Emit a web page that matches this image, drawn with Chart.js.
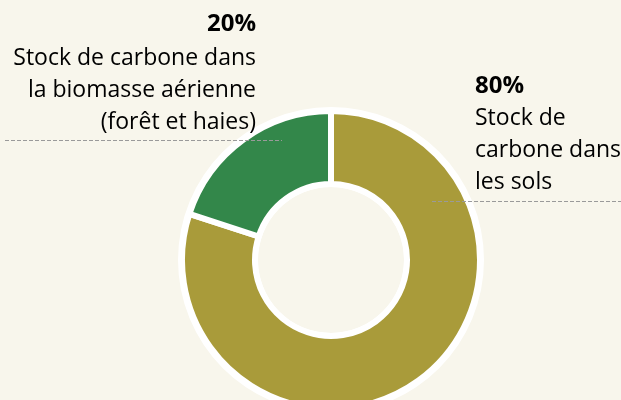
<!DOCTYPE html>
<html lang="fr">
<head>
<meta charset="utf-8">
<title>Stock de carbone</title>
<script src="https://cdn.jsdelivr.net/npm/chart.js@4.4.1/dist/chart.umd.min.js"></script>
<style>
    html, body { margin: 0; padding: 0; background: #F8F6EC; overflow: hidden; }
    #wrap { position: relative; width: 621px; height: 400px; }
</style>
</head>
<body>
<div id="wrap"><canvas id="chart" width="621" height="400"></canvas></div>
<script>
// Data
const categories = ['Stock de carbone dans les sols', 'Stock de carbone dans la biomasse aérienne (forêt et haies)'];
const shares = [80, 20];
const sliceColors = ['#A99B3A', '#33874A'];

// label text, one entry per slice (percent is read from shares)
const labelLines = [
    ['Stock de', 'carbone dans', 'les sols'],
    ['Stock de carbone dans', 'la biomasse aérienne', '(forêt et haies)']
];

const FONT = '"Open Sans", Lato, sans-serif';

// white rim behind the ring (the ring has a white halo inside and out)
const ringHalo = {
    id: 'ringHalo',
    beforeDatasetsDraw(chart) {
        const arc = chart.getDatasetMeta(0).data[0];
        if (!arc) return;
        const { x, y, innerRadius, outerRadius } = arc.getProps(['x', 'y', 'innerRadius', 'outerRadius'], true);
        const ctx = chart.ctx;
        ctx.save();
        ctx.fillStyle = '#FFFFFF';
        ctx.beginPath();
        ctx.arc(x, y, outerRadius + 4, 0, Math.PI * 2);
        ctx.arc(x, y, innerRadius - 3, 0, Math.PI * 2, true);
        ctx.fill();
        ctx.restore();
    }
};

// callout labels with dashed leader lines
const callouts = {
    id: 'callouts',
    afterDraw(chart) {
        const ctx = chart.ctx;
        const spots = [
            { x: 475, y: 93, align: 'left', line: [432, 201, 621, 201] },
            { x: 256, y: 31, align: 'right', line: [5, 140, 282, 140] }
        ];
        ctx.save();
        spots.forEach((s, i) => {
            ctx.textAlign = s.align;
            ctx.textBaseline = 'alphabetic';
            ctx.fillStyle = '#000000';
            ctx.font = 'bold 24px ' + FONT;
            ctx.fillText(shares[i] + '%', s.x, s.y);
            ctx.font = '23px ' + FONT;
            labelLines[i].forEach((t, k) => {
                ctx.fillText(t, s.x, s.y + 32 * (k + 1) + (i === 0 ? 0 : 2));
            });
            ctx.strokeStyle = '#9A9A9A';
            ctx.lineWidth = 1;
            ctx.setLineDash([4, 2]);
            ctx.beginPath();
            ctx.moveTo(s.line[0], s.line[1] + 0.5);
            ctx.lineTo(s.line[2], s.line[3] + 0.5);
            ctx.stroke();
        });
        ctx.restore();
    }
};

new Chart(document.getElementById('chart'), {
    type: 'doughnut',
    data: {
        labels: categories,
        datasets: [{
            data: shares,
            backgroundColor: sliceColors,
            borderColor: '#FFFFFF',
            borderWidth: 6,
            hoverOffset: 0
        }]
    },
    options: {
        responsive: false,
        animation: false,
        radius: 149,
        cutout: '51%',
        layout: { padding: { left: 41, right: 0, top: 120, bottom: 0 } },
        plugins: {
            legend: { display: false },
            tooltip: { enabled: false }
        }
    },
    plugins: [ringHalo, callouts]
});
</script>
</body>
</html>
